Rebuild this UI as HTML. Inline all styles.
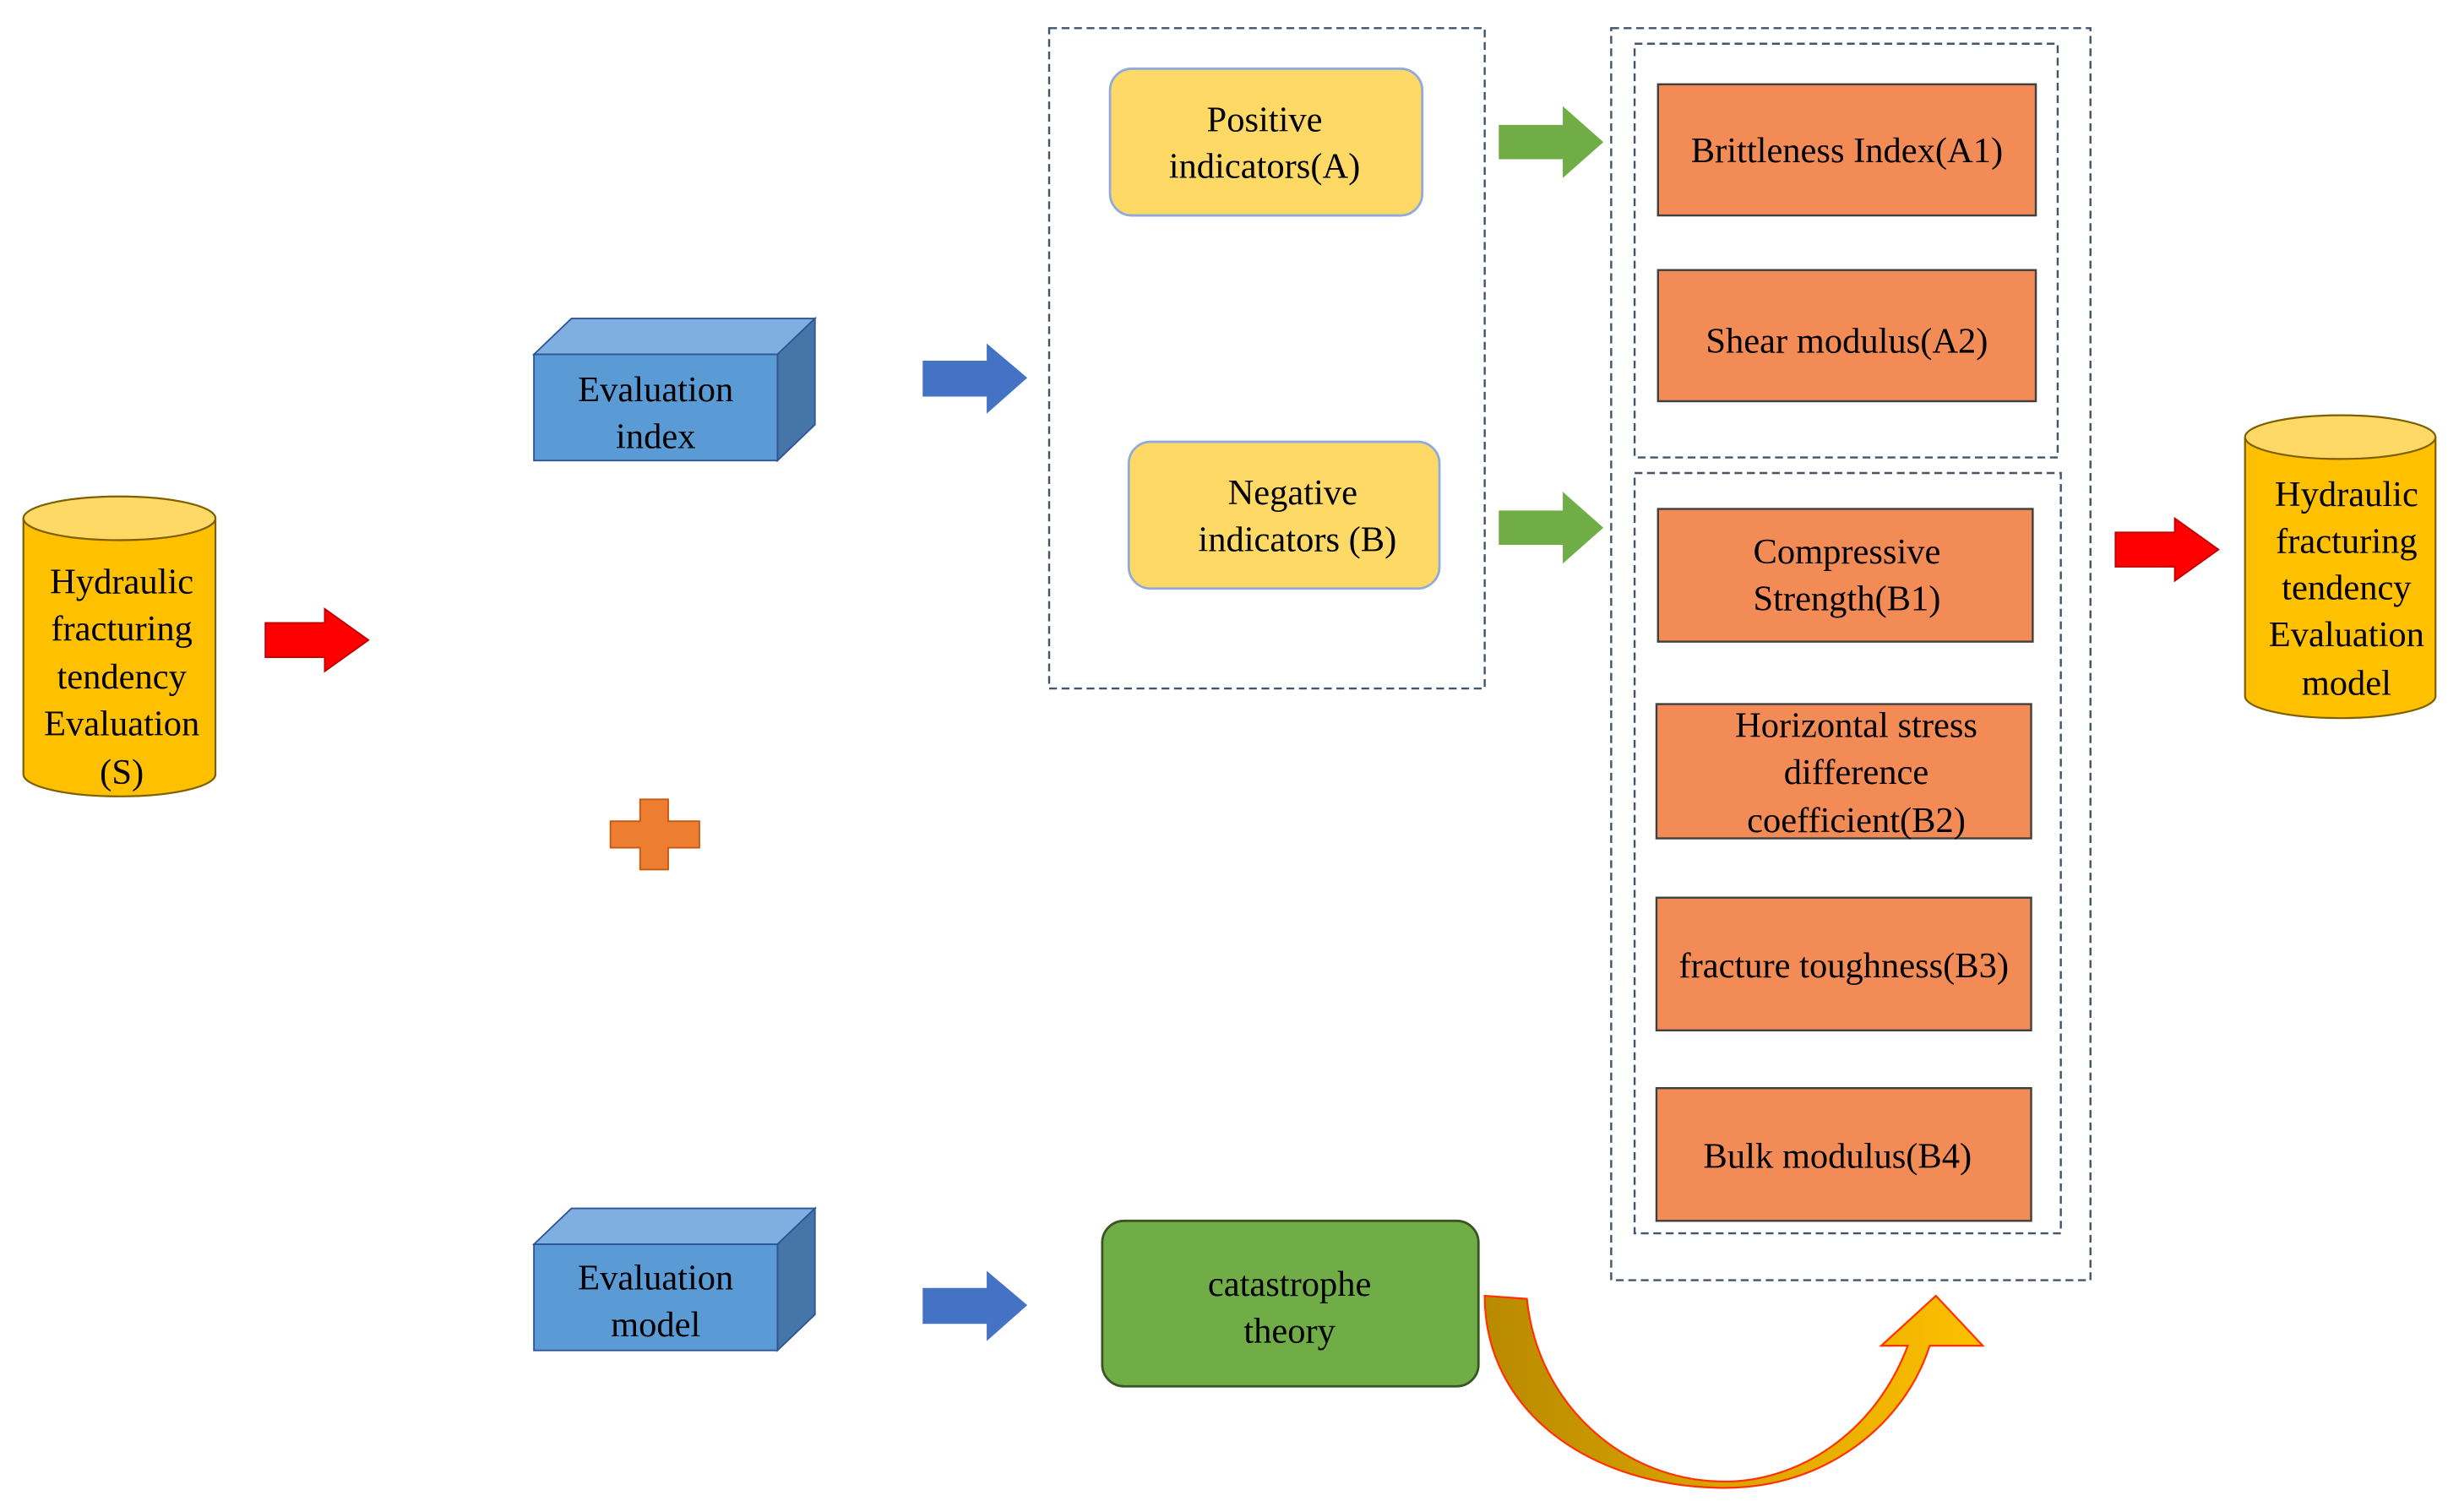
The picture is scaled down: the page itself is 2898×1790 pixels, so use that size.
<!DOCTYPE html>
<html><head><meta charset="utf-8"><style>html,body{margin:0;padding:0;background:#fff}svg{display:block}svg text{font-family:"Liberation Serif","DejaVu Serif",serif;font-size:23px}</style></head><body>
<svg width="2898" height="1790" viewBox="0 0 1568 968.5" preserveAspectRatio="none" xmlns="http://www.w3.org/2000/svg" text-anchor="middle">
<defs>
<linearGradient id="cg" x1="0" y1="0" x2="1" y2="0"><stop offset="0" stop-color="#B88A00"/><stop offset="1" stop-color="#FFC000"/></linearGradient>
</defs>
<path d="M15,332 L15,496 A61,14 0 0 0 138,496 L138,332" fill="#FFC000" stroke="#7F6000" stroke-width="1.2"/>
<ellipse cx="76.5" cy="332" rx="61.5" ry="14" fill="#FFD966" stroke="#7F6000" stroke-width="1.2"/>
<text x="78" y="380">Hydraulic</text><text x="78" y="410">fracturing</text><text x="78" y="441">tendency</text><text x="78" y="471">Evaluation</text><text x="78" y="502">(S)</text>
<path d="M170,399 L208,399 L208,390 L236,410 L208,430 L208,421 L170,421 Z" fill="#FF0000" stroke="#C00000"/>
<path d="M1355,341 L1393,341 L1393,332 L1421,352 L1393,372 L1393,363 L1355,363 Z" fill="#FF0000" stroke="#C00000"/>
<g stroke="#2F5597" stroke-width="1">
<polygon points="342,227 366,204 522,204 498,227" fill="#7FAEE0"/>
<polygon points="498,227 522,204 522,272 498,295" fill="#4675A8"/>
<rect x="342" y="227" width="156" height="68" fill="#5B9BD5"/>
<polygon points="342,797 366,774 522,774 498,797" fill="#7FAEE0"/>
<polygon points="498,797 522,774 522,842 498,865" fill="#4675A8"/>
<rect x="342" y="797" width="156" height="68" fill="#5B9BD5"/>
</g>
<text x="420" y="257">Evaluation</text><text x="420" y="287">index</text>
<text x="420" y="826">Evaluation</text><text x="420" y="856">model</text>
<path d="M591,231 L632,231 L632,220 L658,242 L632,265 L632,254 L591,254 Z" fill="#4472C4"/>
<path d="M591,825 L632,825 L632,814 L658,836 L632,859 L632,848 L591,848 Z" fill="#4472C4"/>
<path d="M410,512 L428,512 L428,526 L448,526 L448,543 L428,543 L428,557 L410,557 L410,543 L391,543 L391,526 L410,526 Z" fill="#ED7D31" stroke="#C55A11"/>
<g fill="none" stroke="#44546A" stroke-width="1.3" stroke-dasharray="5,3">
<rect x="672" y="18" width="279" height="423"/>
<rect x="1032" y="18" width="307" height="802"/>
<rect x="1047" y="28" width="271" height="265"/>
<rect x="1047" y="303" width="273" height="487"/>
</g>
<rect x="711" y="44" width="200" height="94" rx="14" fill="#FFD966" stroke="#8FAADC" stroke-width="1.5"/>
<text x="810" y="84">Positive</text><text x="810" y="114">indicators(A)</text>
<rect x="723" y="283" width="199" height="94" rx="14" fill="#FFD966" stroke="#8FAADC" stroke-width="1.5"/>
<text x="828" y="323">Negative</text><text x="831" y="353">indicators (B)</text>
<path d="M960,80 L1001,80 L1001,68 L1027,91 L1001,114 L1001,102 L960,102 Z" fill="#70AD47"/>
<path d="M960,327 L1001,327 L1001,315 L1027,338 L1001,361 L1001,349 L960,349 Z" fill="#70AD47"/>
<g fill="#F28B55" stroke="#404040" stroke-width="1.3">
<rect x="1062" y="54" width="242" height="84"/>
<rect x="1062" y="173" width="242" height="84"/>
<rect x="1062" y="326" width="240" height="85"/>
<rect x="1061" y="451" width="240" height="86"/>
<rect x="1061" y="575" width="240" height="85"/>
<rect x="1061" y="697" width="240" height="85"/>
</g>
<text x="1183" y="104">Brittleness Index(A1)</text>
<text x="1183" y="226">Shear modulus(A2)</text>
<text x="1183" y="361">Compressive</text><text x="1183" y="391">Strength(B1)</text>
<text x="1189" y="472">Horizontal stress</text><text x="1189" y="502">difference</text><text x="1189" y="533">coefficient(B2)</text>
<text x="1181" y="626">fracture toughness(B3)</text>
<text x="1177" y="748">Bulk modulus(B4)</text>
<path d="M1438,280 L1438,446 A61,14 0 0 0 1560,446 L1560,280" fill="#FFC000" stroke="#7F6000" stroke-width="1.2"/>
<ellipse cx="1499" cy="280" rx="61" ry="14" fill="#FFD966" stroke="#7F6000" stroke-width="1.2"/>
<text x="1503" y="324">Hydraulic</text><text x="1503" y="354">fracturing</text><text x="1503" y="384">tendency</text><text x="1503" y="414">Evaluation</text><text x="1503" y="445">model</text>
<rect x="706" y="782" width="241" height="106" rx="14" fill="#70AD47" stroke="#375623" stroke-width="1.5"/>
<text x="826" y="830">catastrophe</text><text x="826" y="860">theory</text>
<path d="M951,830 C951,905 1020,953 1105,953 C1170,953 1220,912 1236,862 L1270,862 L1240,830 L1205,862 L1222,862 C1200,920 1150,949 1105,949 C1040,949 985,900 978,832 Z" fill="url(#cg)" stroke="#FF3300" stroke-width="1.2"/>
</svg>
</body></html>
